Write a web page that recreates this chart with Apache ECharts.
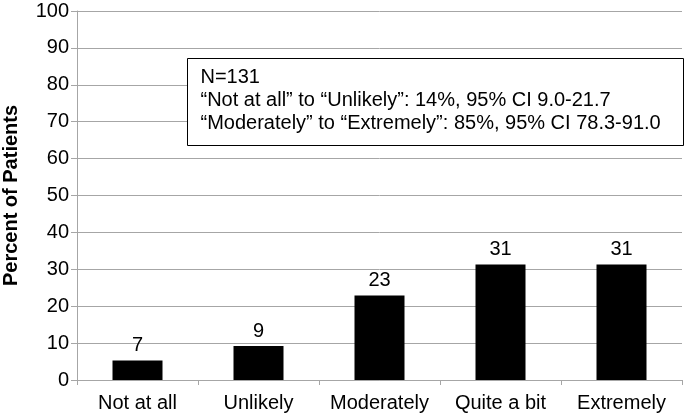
<!DOCTYPE html>
<html>
<head>
<meta charset="utf-8">
<script src="https://cdn.jsdelivr.net/npm/echarts@6/dist/echarts.min.js"></script>
<style>
  html, body { margin: 0; padding: 0; background: #fff; }
  #chart { width: 685px; height: 417px; }
</style>
</head>
<body>
<div id="chart"></div>
<script>
// response categories
var categories = ['Not at all', 'Unlikely', 'Moderately', 'Quite a bit', 'Extremely'];
// percent of patients (bar heights)
var percents = [5.3, 9.2, 22.9, 31.3, 31.3];
// labels printed above the bars (as in the source figure)
var barLabels = ['7', '9', '23', '31', '31'];
var noteLines = [
    'N=131',
    '\u201CNot at all\u201D to \u201CUnlikely\u201D: 14%, 95% CI 9.0-21.7',
    '\u201CModerately\u201D to \u201CExtremely\u201D: 85%, 95% CI 78.3-91.0'
];

var font = 'Liberation Sans';
var chart = echarts.init(document.getElementById('chart'));

// annotation box, one text element per line
var noteChildren = [{
    type: 'rect',
    z: 100,
    shape: { x: 0, y: 0, width: 496, height: 87 },
    style: { fill: '#fff', stroke: '#000', lineWidth: 1 }
}];
noteLines.forEach(function (line, i) {
    noteChildren.push({
        type: 'text',
        z: 101,
        x: 13,
        y: 19 + i * 23,
        style: {
            text: line,
            fill: '#000',
            fontFamily: font,
            fontSize: 20,
            verticalAlign: 'middle'
        }
    });
});

var option = {
    animation: false,
    grid: { left: 77, right: 3, top: 11, bottom: 37, outerBoundsMode: 'none' },
    xAxis: {
        type: 'category',
        data: categories,
        axisLine: { lineStyle: { color: '#a6a6a6', width: 1 } },
        axisTick: { show: true, length: 5, lineStyle: { color: '#a6a6a6' } },
        axisLabel: { interval: 0, color: '#000', fontFamily: font, fontSize: 20, margin: 13 }
    },
    yAxis: {
        type: 'value',
        min: 0,
        max: 100,
        interval: 10,
        name: 'Percent of Patients',
        nameLocation: 'middle',
        nameGap: 56,
        nameTextStyle: { color: '#000', fontFamily: font, fontSize: 20, fontWeight: 'bold' },
        axisLine: { show: true, lineStyle: { color: '#a6a6a6', width: 1 } },
        axisTick: { show: true, length: 6, lineStyle: { color: '#a6a6a6' } },
        axisLabel: { color: '#000', fontFamily: font, fontSize: 20, margin: 8 },
        splitLine: { lineStyle: { color: '#a6a6a6', width: 1 } }
    },
    series: [{
        type: 'bar',
        data: percents,
        barWidth: 50,
        itemStyle: { color: '#000' },
        label: {
            show: true,
            position: 'top',
            distance: 5,
            color: '#000',
            fontFamily: font,
            fontSize: 20,
            formatter: function (p) { return barLabels[p.dataIndex]; }
        }
    }],
    graphic: [{
        type: 'group',
        left: 187,
        top: 58,
        z: 100,
        children: noteChildren
    }]
};
chart.setOption(option);
</script>
</body>
</html>
